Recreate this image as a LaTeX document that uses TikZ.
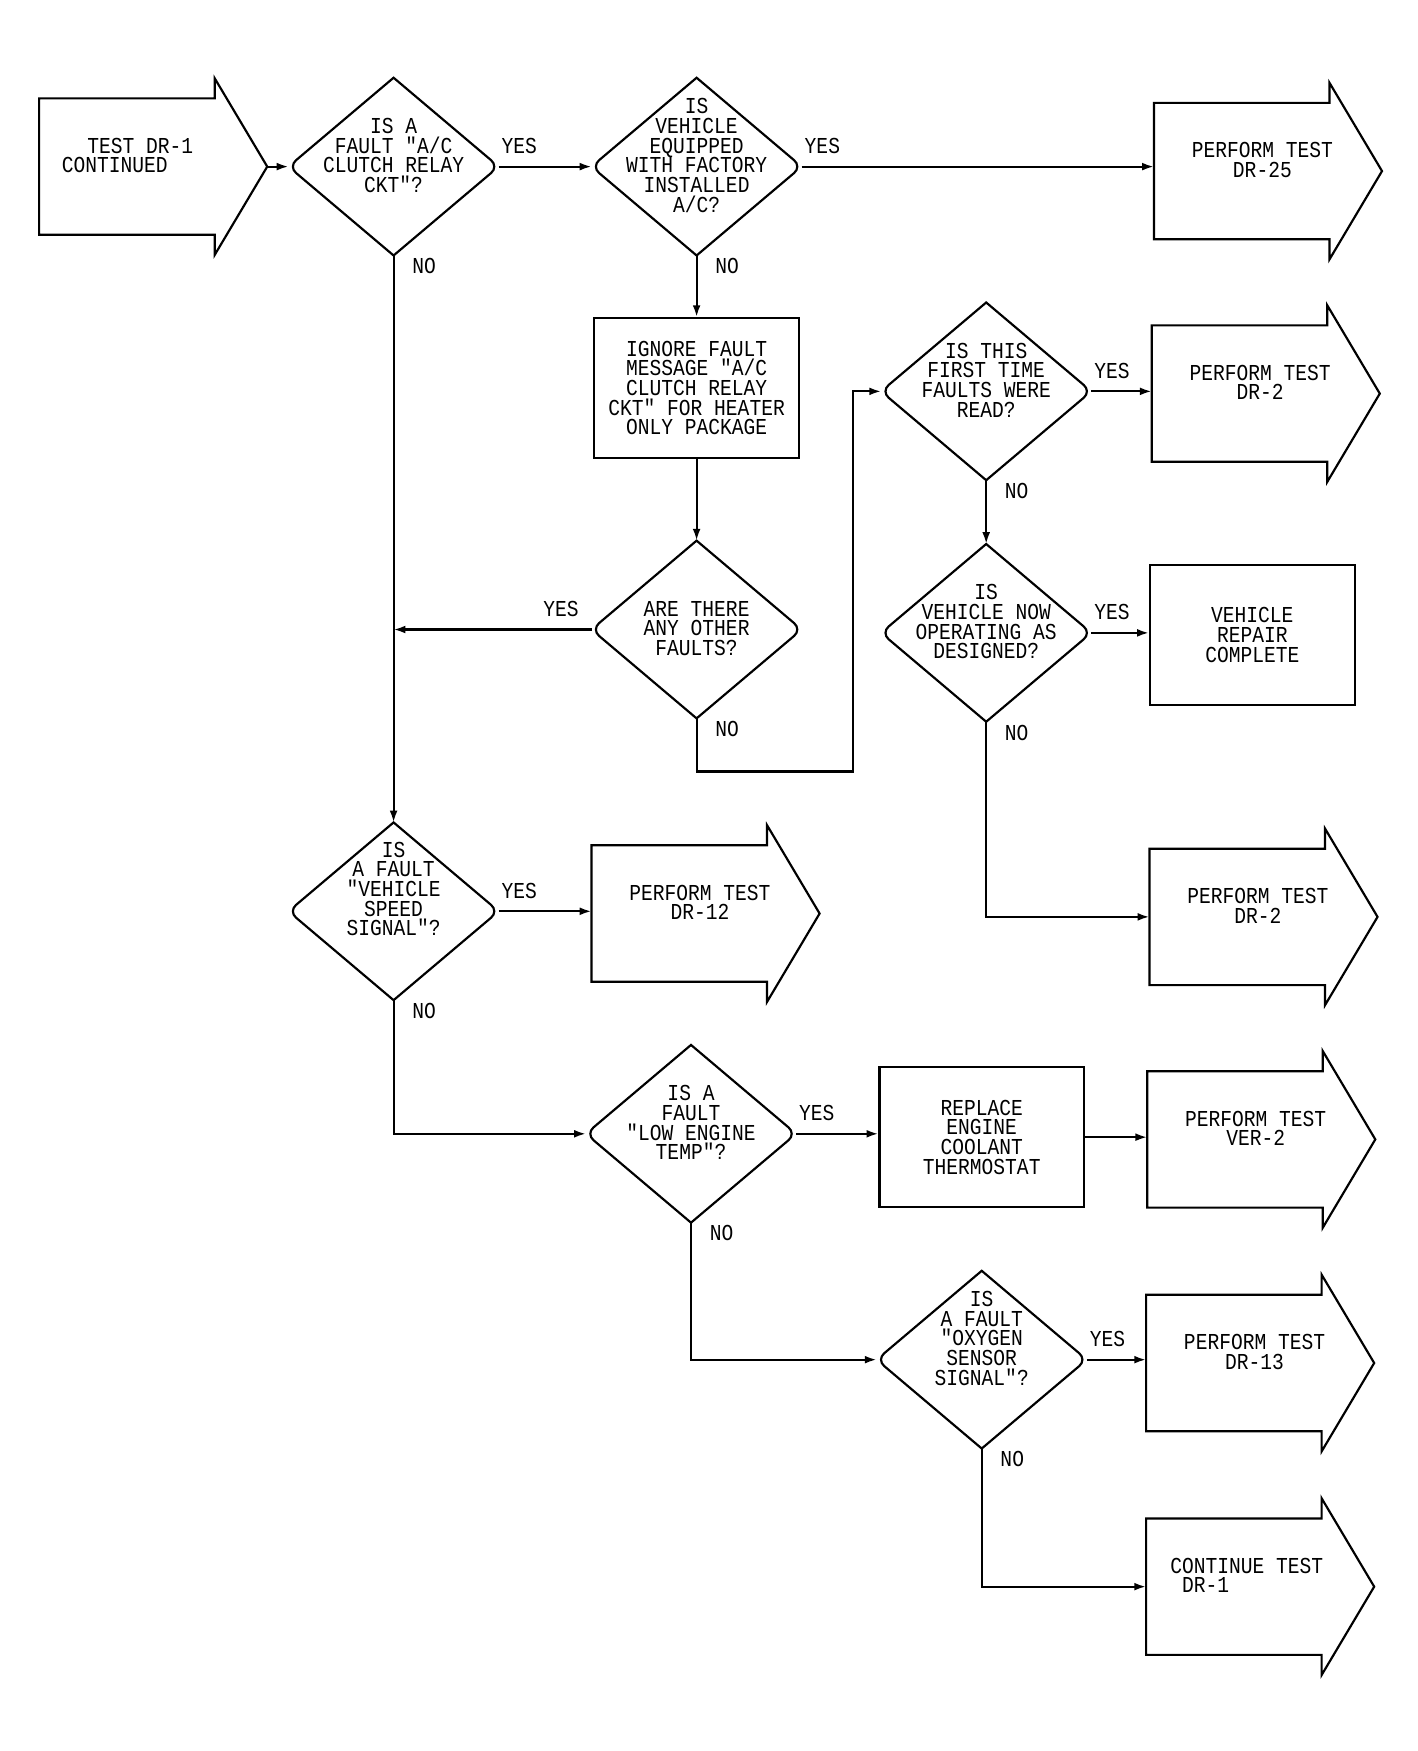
\documentclass[tikz,border=0pt]{standalone}
\usepackage{fontspec}
\newfontfamily\plotfont[FakeStretch=0.86]{Liberation Mono}
\usetikzlibrary{arrows.meta,calc,shapes.geometric}
\tikzset{
  flow/.style={line width=1.1pt},
  link/.style={flow,-{Latex[length=6pt,width=4pt]}},
  txt/.style={font=\plotfont\fontsize{11.6}{10}\selectfont,align=center,inner sep=0pt},
  decision/.style={diamond,minimum width=3.76cm,minimum height=3.18cm,inner sep=0pt,outer sep=0pt},
  actionbox/.style={txt,draw,flow,minimum width=3.66cm,minimum height=2.5cm},
  yeslabel/.style={txt,anchor=south west,xshift=1pt,yshift=6pt},
  leftyes/.style={txt,anchor=south east,xshift=-6pt,yshift=6pt},
  nolabel/.style={txt,anchor=north west,xshift=9pt,yshift=-1pt},
}
\NewDocumentCommand\Decision{O{0}mmmm}%
{%
\node[decision] (#2) at (#3,#4) {};%
\draw[flow] ($(#2.north)!.5!(#2.east)$) [rounded corners=5pt] -- (#2.east) -- ($(#2.east)!.5!(#2.south)$) [sharp corners] -- (#2.south) -- ($(#2.south)!.5!(#2.west)$) [rounded corners=5pt] -- (#2.west) -- ($(#2.west)!.5!(#2.north)$) [sharp corners] -- (#2.north) -- cycle;%
\node[txt] at ($(#2.center)+(0,#1)$) {#5};%
}
\NewDocumentCommand\BlockArrow{O{}mmmm}%
{%
\coordinate (#2) at (#3,#4);%
\coordinate (#2-tip) at (#3+204,#4);%
\draw[flow] (#3,#4-61) -- (#3+157,#4-61) -- (#3+157,#4-79) -- (#2-tip) -- (#3+157,#4+79) -- (#3+157,#4+61) -- (#3,#4+61) -- cycle;%
\node[txt,#1] at (#3+97,#4-10) {#5};%
}

\begin{document}
\begin{tikzpicture}[x=0.02cm,y=-0.02cm]
\useasboundingbox (0,0) rectangle (1268,1566);
\BlockArrow[xshift=-0.36cm,align=left]{start}{35}{149}{\hspace*{13pt}TEST DR-1\\CONTINUED}
\Decision[-10]{d1}{352}{149}{IS A\\FAULT "A/C\\CLUTCH RELAY\\CKT"?}
\Decision[-10]{d2}{623}{149}{IS\\VEHICLE\\EQUIPPED\\WITH FACTORY\\INSTALLED\\A/C?}
\BlockArrow{p25}{1032}{153}{PERFORM TEST\\DR-25}
\node[actionbox] (b1) at (623,347) {IGNORE FAULT\\MESSAGE "A/C\\CLUTCH RELAY\\CKT" FOR HEATER\\ONLY PACKAGE};
\Decision[-1]{d3}{623}{563}{ARE THERE\\ANY OTHER\\FAULTS?}
\Decision[-10]{d4}{882}{350}{IS THIS\\FIRST TIME\\FAULTS WERE\\READ?}
\BlockArrow{p2a}{1030}{352}{PERFORM TEST\\DR-2}
\Decision[-10]{d6}{882}{566}{IS\\VEHICLE NOW\\OPERATING AS\\DESIGNED?}
\node[actionbox] (b2) at (1120,568) {VEHICLE\\REPAIR\\COMPLETE};
\BlockArrow{p2b}{1028}{820}{PERFORM TEST\\DR-2}
\Decision[-20]{d5}{352}{815}{IS\\A FAULT\\"VEHICLE\\SPEED\\SIGNAL"?}
\BlockArrow{p12}{529}{817}{PERFORM TEST\\DR-12}
\Decision[-10]{d7}{618}{1014}{IS A\\FAULT\\"LOW ENGINE\\TEMP"?}
\node[actionbox] (b3) at (878,1017) {REPLACE\\ENGINE\\COOLANT\\THERMOSTAT};
\BlockArrow{pv}{1026}{1019}{PERFORM TEST\\VER-2}
\Decision[-19]{d8}{878}{1216}{IS\\A FAULT\\"OXYGEN\\SENSOR\\SIGNAL"?}
\BlockArrow{p13}{1025}{1219}{PERFORM TEST\\DR-13}
\BlockArrow[xshift=-0.14cm,align=left]{p1}{1025}{1419}{CONTINUE TEST\\\hspace*{6pt}DR-1}
\coordinate (bend) at (763,690);
% connectors
\draw[link] (start-tip) -- (d1.west);
\draw[link] (d1.east) node[yeslabel] {YES} -- (d2.west);
\draw[link] (d2.east) node[yeslabel] {YES} -- (d2.east -| p25);
\draw[link] (d2.south) node[nolabel] {NO} -- (b1.north);
\draw[link] (b1.south) -- (d3.north);
\draw[link] (d1.south) node[nolabel] {NO} -- (d5.north);
\draw[link] (d3.west) node[leftyes] {YES} -- (d3.west -| d1.south);
\draw[link] (d3.south) node[nolabel] {NO} |- (bend) |- (d4.west);
\draw[link] (d4.east) node[yeslabel] {YES} -- (d4.east -| p2a);
\draw[link] (d4.south) node[nolabel] {NO} -- (d6.north);
\draw[link] (d6.east) node[yeslabel] {YES} -- (d6.east -| b2.west);
\draw[link] (d6.south) node[nolabel] {NO} |- (p2b);
\draw[link] (d5.east) node[yeslabel] {YES} -- (d5.east -| p12);
\draw[link] (d5.south) node[nolabel] {NO} |- (d7.west);
\draw[link] (d7.east) node[yeslabel] {YES} -- (d7.east -| b3.west);
\draw[link] (b3.east) -- (b3.east -| pv);
\draw[link] (d7.south) node[nolabel] {NO} |- (d8.west);
\draw[link] (d8.east) node[yeslabel] {YES} -- (d8.east -| p13);
\draw[link] (d8.south) node[nolabel] {NO} |- (p1);
\end{tikzpicture}
\end{document}
